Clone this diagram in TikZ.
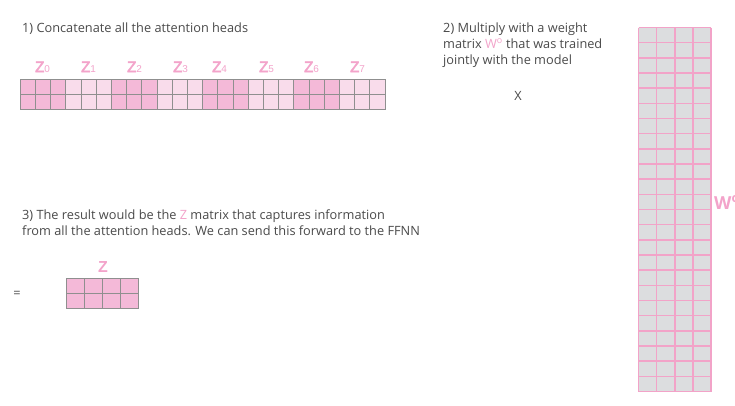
\documentclass[tikz,border=0pt]{standalone}
\usepackage{fontspec}
\setmainfont{Open Sans}
\newfontfamily\zfont{Liberation Sans}
\definecolor{txt}{HTML}{4A4A4A}
\definecolor{pinktxt}{HTML}{F3A3CA}
\definecolor{darkcell}{HTML}{F4B9D8}
\definecolor{lightcell}{HTML}{F9DCEB}
\definecolor{gridgray}{HTML}{8F8F8F}
\definecolor{wcell}{HTML}{DCDDDF}
\definecolor{wline}{HTML}{F2A3C8}
\begin{document}
\begin{tikzpicture}[x=1bp,y=-1bp,
  body/.style={font=\fontsize{12.8}{16}\selectfont, text=txt, inner sep=0pt, anchor=base west},
  zlab/.style={font=\zfont\fontsize{15}{15}\selectfont, text=pinktxt, inner sep=0pt, anchor=base west},
  cellgrid/.style={draw=gridgray, line width=0.6bp}
]
\useasboundingbox (0,0) rectangle (735,405);
\fill[white] (0,0) rectangle (735,405);

% Section 1
\node[body] (t1) at (22,32) {1) Concatenate all the attention heads};
\foreach \i/\xx in {0/35,1/81,2/127,3/173,4/212,5/259,6/304,7/350}{
  \node[zlab] (z\i) at (\xx,72) {\pgfsetfillcolor{pinktxt}\special{pdf:literal 2 Tr 0.5 w}Z\special{pdf:literal 0 Tr}{\fontsize{10}{10}\selectfont\raisebox{-0.5bp}{\i}}};
}
\foreach \b in {0,...,7}{
  \pgfmathsetmacro{\xa}{20+\b*365/8}
  \pgfmathsetmacro{\xb}{20+(\b+1)*365/8}
  \pgfmathparse{mod(\b,2)==0 ? "darkcell" : "lightcell"}
  \edef\cc{\pgfmathresult}
  \fill[\cc] (\xa,79) rectangle (\xb,109.5);
}
\draw[cellgrid] (20,79) rectangle (385,109.5);
\draw[cellgrid] (20,94.25) -- (385,94.25);
\foreach \c in {1,...,23}{
  \pgfmathsetmacro{\xc}{20+\c*365/24}
  \draw[cellgrid] (\xc,79) -- (\xc,109.5);
}

% Section 2
\node[body] (t2a) at (443,32) {2) Multiply with a weight};
\node[body] (t2b) at (443,48.3) {matrix {\color{pinktxt}W\textsuperscript{o}} that was trained};
\node[body] (t2c) at (443,64.3) {jointly with the model};
\node[body, anchor=base] (times) at (518,100) {X};

% W^O matrix
\fill[wcell] (638.5,27.5) rectangle (711,391.5);
\foreach \r in {0,...,24}{
  \pgfmathsetmacro{\yr}{27.5+\r*364/24}
  \draw[wline, line width=1.5bp] (638.5,\yr) -- (711,\yr);
}
\foreach \c in {0,...,4}{
  \pgfmathsetmacro{\xc}{638.5+\c*72.5/4}
  \draw[wline, line width=1.5bp] (\xc,27.5) -- (\xc,391.5);
}
\node[font=\fontsize{18}{18}\selectfont\bfseries, text=pinktxt, inner sep=0pt, anchor=base west] (wlab) at (714,209) {W\textsuperscript{o}};

% Section 3
\node[body] (t3a) at (22,219.3) {3) The result would be the {\color{pinktxt}Z} matrix that captures information};
\node[body] (t3b) at (22,235.7) {from all the attention heads. We can send this forward to the FFNN};
\node[body, anchor=base] (eq) at (17,297) {=};
\node[font=\zfont\fontsize{16}{16}\selectfont\bfseries, text=pinktxt, inner sep=0pt, anchor=base] (zres) at (103,272) {Z};
\fill[darkcell] (66.5,278.3) rectangle (138.5,308.3);
\draw[cellgrid] (66.5,278.3) rectangle (138.5,308.3);
\draw[cellgrid] (66.5,293.3) -- (138.5,293.3);
\foreach \c in {1,2,3}{
  \pgfmathsetmacro{\xc}{66.5+\c*18}
  \draw[cellgrid] (\xc,278.3) -- (\xc,308.3);
}
\end{tikzpicture}
\end{document}
